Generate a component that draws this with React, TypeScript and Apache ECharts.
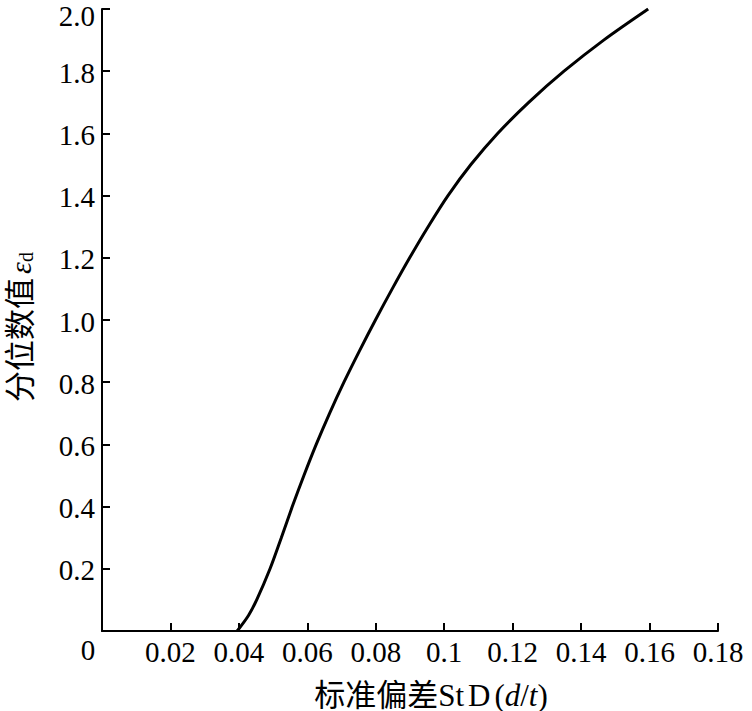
import React, { useEffect, useRef } from "react";
import * as echarts from "echarts";

const xValues = [0.0395, 0.0428, 0.0452, 0.0491, 0.0524, 0.0556, 0.059, 0.0626, 0.0665, 0.0707, 0.0752, 0.0799, 0.0848, 0.0899, 0.0953, 0.1011, 0.1078, 0.1156, 0.1247, 0.135, 0.1466, 0.1596];
const yValues = [0, 0.05, 0.1, 0.2, 0.3, 0.4, 0.5, 0.6, 0.7, 0.8, 0.9, 1.0, 1.1, 1.2, 1.3, 1.4, 1.5, 1.6, 1.7, 1.8, 1.9, 2.0];
const xAxisTitle = "标准偏差";
const yAxisTitle = "分位数值";
const yMaxLabel = "2.0";
const originLabel = "0";

const FONT = "'Liberation Serif', 'Times New Roman', 'Noto Sans CJK SC', serif";
const NUM = { fontFamily: FONT, fontSize: 29, fill: "#000", color: "#000" };

export default function App() {
  const ref = useRef<HTMLDivElement>(null);
  useEffect(() => {
    const chart = echarts.init(ref.current!, null, { renderer: "svg" });
    const data = xValues.map((x, i) => [x, yValues[i]]);
    chart.setOption({
      animation: false,
      backgroundColor: "#fff",
      textStyle: { fontFamily: FONT },
      grid: { left: 102, right: 34, top: 9, bottom: 80, containLabel: false, outerBoundsMode: "none" },
      xAxis: {
        type: "value",
        min: 0,
        max: 0.18,
        interval: 0.02,
        axisLine: { show: true, lineStyle: { color: "#000", width: 2 } },
        axisTick: { show: true, inside: true, length: 8, lineStyle: { color: "#000", width: 2 } },
        axisLabel: {
          color: "#000",
          fontFamily: FONT,
          fontSize: 29,
          margin: 6,
          showMaxLabel: true,
          showMinLabel: true,
          formatter: (v: number) => (v === 0 ? "" : `{n|${parseFloat(v.toFixed(2))}}`),
          rich: { n: { fontFamily: FONT, fontSize: 29, color: "#000" } },
        },
        splitLine: { show: false },
      },
      yAxis: {
        type: "value",
        min: 0,
        max: 2.0,
        interval: 0.2,
        axisLine: { show: true, lineStyle: { color: "#000", width: 2 } },
        axisTick: { show: true, inside: true, length: 8, lineStyle: { color: "#000", width: 2 } },
        axisLabel: {
          color: "#000",
          fontFamily: FONT,
          fontSize: 29,
          margin: 7,
          showMaxLabel: true,
          formatter: (v: number) => (v === 0 || v >= 1.99 ? "" : `{n|${v.toFixed(1)}}`),
          rich: {
            n: { fontFamily: FONT, fontSize: 29, color: "#000", padding: [3, 0, 0, 0] },
          },
        },
        splitLine: { show: false },
      },
      series: [
        {
          type: "line",
          data,
          smooth: 0.3,
          symbol: "none",
          lineStyle: { color: "#000", width: 3 },
        },
      ],
      graphic: [
        {
          type: "text",
          x: 88,
          y: 650,
          style: {
            text: `{n|${originLabel}}`,
            align: "center",
            verticalAlign: "middle",
            rich: { n: NUM },
          },
        },
        {
          type: "text",
          x: 95,
          y: 5,
          style: {
            text: `{n|${yMaxLabel}}`,
            align: "right",
            verticalAlign: "top",
            rich: { n: { ...NUM, lineHeight: 21 } },
          },
        },
        {
          type: "text",
          x: 431,
          y: 695,
          style: {
            text: `{c|${xAxisTitle}}{l|St}{l2|D}{p|(}{i|d}{p|/}{i|t}{p|)}`,
            align: "center",
            verticalAlign: "middle",
            rich: {
              c: { fontFamily: FONT, fontSize: 31, fill: "#000" },
              l: { fontFamily: FONT, fontSize: 31, fill: "#000" },
              l2: { fontFamily: FONT, fontSize: 31, fill: "#000", padding: [0, 4, 0, 4] },
              p: { fontFamily: FONT, fontSize: 31, fill: "#000" },
              i: { fontFamily: FONT, fontSize: 31, fontStyle: "italic", fill: "#000" },
            },
          },
        },
        {
          type: "text",
          x: 20,
          y: 327,
          rotation: Math.PI / 2,
          style: {
            text: `{c|${yAxisTitle}}{e|ε}{s|d}`,
            align: "center",
            verticalAlign: "middle",
            rich: {
              c: { fontFamily: FONT, fontSize: 31, fill: "#000" },
              e: { fontFamily: FONT, fontSize: 30, fontStyle: "italic", fill: "#000", padding: [0, 0, 0, 4] },
              s: { fontFamily: FONT, fontSize: 20, fill: "#000", verticalAlign: "bottom", padding: [8, 0, 0, 0] },
            },
          },
        },
      ],
    });
    return () => chart.dispose();
  }, []);
  return <div ref={ref} style={{ width: 752, height: 711, position: "absolute", left: 0, top: 0 }} />;
}
